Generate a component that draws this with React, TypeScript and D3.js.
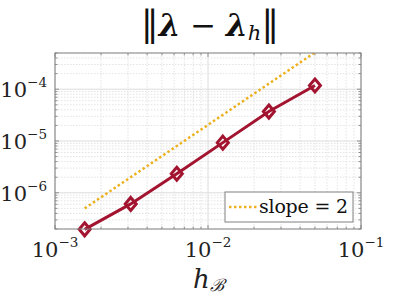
import React from "react";
import * as d3 from "d3";

// mesh sizes and errors
const hValues = [1.5625e-3, 3.125e-3, 6.25e-3, 1.25e-2, 2.5e-2, 5e-2];
const errValues = [1.97e-7, 6.1e-7, 2.33e-6, 9.3e-6, 3.7e-5, 1.18e-4];
// reference slope-2 line endpoints
const slopeH = [1.5625e-3, 5e-2];
const slopeErr = [5.0e-7, 5.12e-4];

const xTickExps = [-3, -2, -1];
const yTickExps = [-6, -5, -4];

const W = 399,
  H = 299;
const left = 55,
  right = 361,
  top = 53,
  bottom = 229;

const RED = "#A2142F";
const ORANGE = "#EDB120";
const FONT = '"DejaVu Serif", serif';

export default function App() {
  const x = d3.scaleLog().domain([1e-3, 1e-1]).range([left, right]);
  const y = d3.scaleLog().domain([2e-7, 5e-4]).range([bottom, top]);

  const xMinor = x.ticks();
  const yMinor = y.ticks();
  const isMajor = (v: number) =>
    Math.abs(Math.log10(v) - Math.round(Math.log10(v))) < 1e-9;

  const line = d3
    .line<[number, number]>()
    .x((d) => x(d[0]))
    .y((d) => y(d[1]));

  const data = hValues.map((h, i) => [h, errValues[i]] as [number, number]);
  const slope = slopeH.map((h, i) => [h, slopeErr[i]] as [number, number]);

  const diamond = (cx: number, cy: number) =>
    `M${cx},${cy - 6.5}L${cx + 5.5},${cy}L${cx},${cy + 6.5}L${cx - 5.5},${cy}Z`;

  const txt = { fontFamily: FONT };

  return (
    <svg
      width={W}
      height={H}
      style={{ position: "absolute", left: 0, top: 0, background: "#fff", fontFamily: FONT }}
    >
      <defs>
        <clipPath id="plot">
          <rect x={left} y={top} width={right - left} height={bottom - top} />
        </clipPath>
      </defs>

      {/* grid */}
      <g>
        {xMinor.map((v, i) => (
          <line
            key={"gx" + i}
            x1={x(v)}
            x2={x(v)}
            y1={top}
            y2={bottom}
            stroke={isMajor(v) ? "#dcdcdc" : "#e3e3e3"}
            strokeWidth={1}
            strokeDasharray={isMajor(v) ? undefined : "1.5,1.5"}
          />
        ))}
        {yMinor.map((v, i) => (
          <line
            key={"gy" + i}
            y1={y(v)}
            y2={y(v)}
            x1={left}
            x2={right}
            stroke={isMajor(v) ? "#dcdcdc" : "#e3e3e3"}
            strokeWidth={1}
            strokeDasharray={isMajor(v) ? undefined : "1.5,1.5"}
          />
        ))}
      </g>

      {/* ticks */}
      <g stroke="#777" strokeWidth={0.8}>
        {xMinor.map((v, i) => {
          const len = isMajor(v) ? 4 : 2.5;
          return (
            <g key={"tx" + i}>
              <line x1={x(v)} x2={x(v)} y1={bottom} y2={bottom - len} />
              <line x1={x(v)} x2={x(v)} y1={top} y2={top + len} />
            </g>
          );
        })}
        {yMinor.map((v, i) => {
          const len = isMajor(v) ? 4 : 2.5;
          return (
            <g key={"ty" + i}>
              <line y1={y(v)} y2={y(v)} x1={left} x2={left + len} />
              <line y1={y(v)} y2={y(v)} x1={right} x2={right - len} />
            </g>
          );
        })}
      </g>

      {/* series */}
      <g clipPath="url(#plot)">
        <path
          d={line(slope) || ""}
          fill="none"
          stroke={ORANGE}
          strokeWidth={2.5}
          strokeDasharray="2.5,2.5"
        />
      </g>
      <path d={line(data) || ""} fill="none" stroke={RED} strokeWidth={3} />
      {data.map((d, i) => (
        <path
          key={"m" + i}
          d={diamond(x(d[0]), y(d[1]))}
          fill="none"
          stroke={RED}
          strokeWidth={3}
        />
      ))}

      {/* box */}
      <rect
        x={left}
        y={top}
        width={right - left}
        height={bottom - top}
        fill="none"
        stroke="#808080"
        strokeWidth={1}
      />

      {/* x tick labels */}
      {xTickExps.map((e) => (
        <text
          key={"xl" + e}
          x={x(Math.pow(10, e))}
          y={257}
          textAnchor="middle"
          fontSize={21}
          fill="#222"
          style={txt}
        >
          10
          <tspan dy={-10} fontSize={13.5}>
            {"\u2212" + Math.abs(e)}
          </tspan>
        </text>
      ))}

      {/* y tick labels */}
      {yTickExps.map((e) => (
        <text
          key={"yl" + e}
          x={47}
          y={y(Math.pow(10, e)) + 8}
          textAnchor="end"
          fontSize={21}
          fill="#222"
          style={txt}
        >
          10
          <tspan dy={-10} fontSize={13.5}>
            {"\u2212" + Math.abs(e)}
          </tspan>
        </text>
      ))}

      {/* x label */}
      <text x={193} y={288} fontSize={26} fill="#222" style={txt}>
        <tspan fontStyle="italic">h</tspan>
        <tspan dy={3} fontSize={17} fontStyle="italic">
          {"\u212C"}
        </tspan>
      </text>

      {/* title */}
      <text x={210} y={36} textAnchor="middle" fontSize={31} fill="#111" style={txt}>
        <tspan fontSize={36}>{"\u2016"}</tspan>
        <tspan fontWeight="bold" fontStyle="italic">
          {"\u03bb"}
        </tspan>
        <tspan>{" \u2212 "}</tspan>
        <tspan fontWeight="bold" fontStyle="italic">
          {"\u03bb"}
        </tspan>
        <tspan dy={4} fontSize={21} fontStyle="italic">
          h
        </tspan>
        <tspan dy={-4} fontSize={36}>{"\u2016"}</tspan>
      </text>

      {/* legend */}
      <g>
        <rect
          x={225}
          y={192}
          width={128}
          height={30}
          fill="#fff"
          stroke="#808080"
          strokeWidth={1}
        />
        <line
          x1={229}
          x2={257}
          y1={207}
          y2={207}
          stroke={ORANGE}
          strokeWidth={2.5}
          strokeDasharray="2.5,2.5"
        />
        <text
          x={259}
          y={213}
          fontSize={19}
          fill="#111"
          style={txt}
          textLength={89}
          lengthAdjust="spacing"
        >
          slope = 2
        </text>
      </g>
    </svg>
  );
}
